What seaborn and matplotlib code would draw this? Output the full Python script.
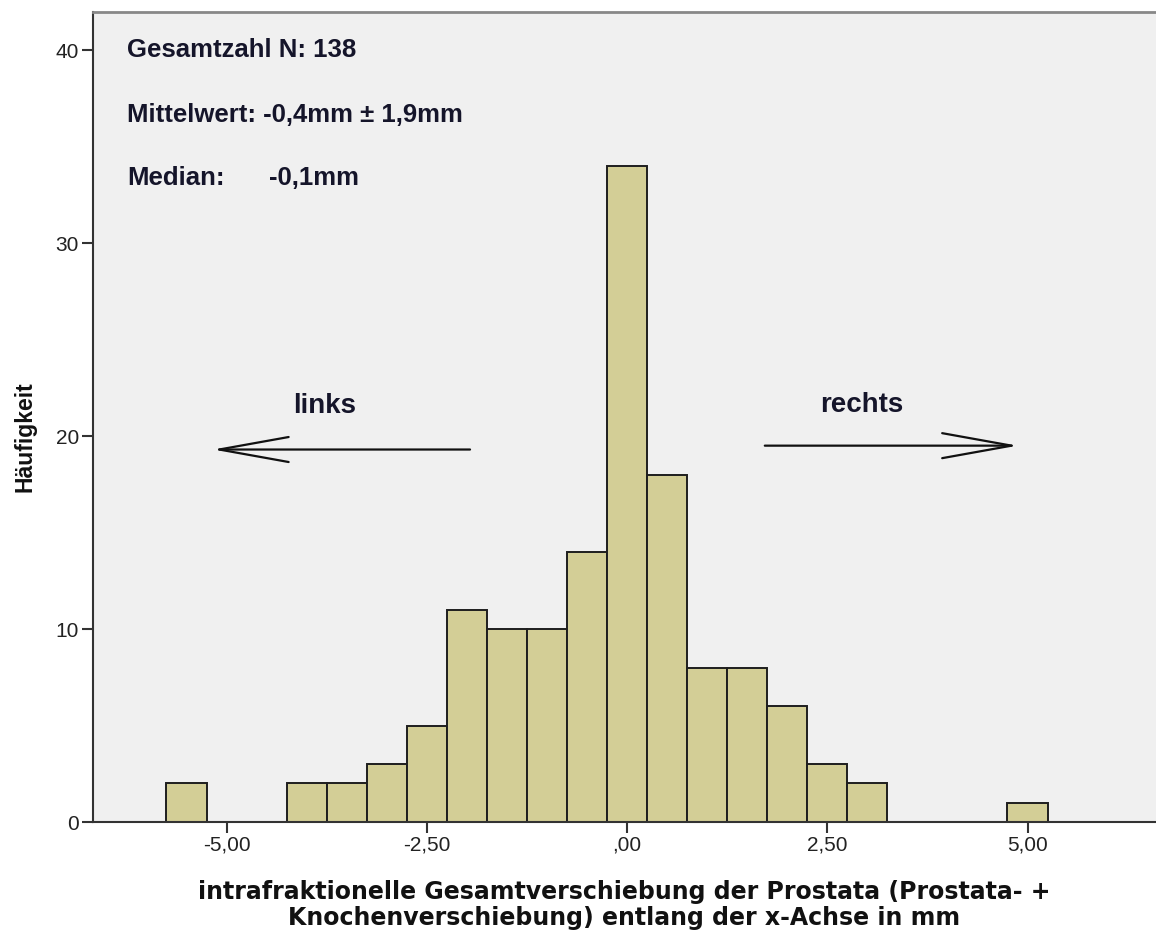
import numpy as np
import pandas as pd
import matplotlib
matplotlib.use("Agg")
import matplotlib.pyplot as plt
import seaborn as sns

# ---- data ----
bin_centers = [-5.5, -4.0, -3.5, -3.0, -2.5, -2.0, -1.5, -1.0, -0.5, 0.0,
               0.5, 1.0, 1.5, 2.0, 2.5, 3.0, 5.0]
counts = [2, 2, 2, 3, 5, 11, 10, 10, 14, 34, 18, 8, 8, 6, 3, 2, 1]
bin_width = 0.5
x_ticks = [-5.0, -2.5, 0.0, 2.5, 5.0]
x_tick_labels = ["-5,00", "-2,50", ",00", "2,50", "5,00"]
y_ticks = [0, 10, 20, 30, 40]
stats_lines = ["Gesamtzahl N: 138", "Mittelwert: -0,4mm \u00b1 1,9mm", "Median:"]
median_value = "-0,1mm"
x_label = ("intrafraktionelle Gesamtverschiebung der Prostata (Prostata- +\n"
           "Knochenverschiebung) entlang der x-Achse in mm")
y_label = "H\u00e4ufigkeit"

df = pd.DataFrame({"center": bin_centers, "count": counts})
bin_lo = min(bin_centers) - bin_width / 2
bin_hi = max(bin_centers) + bin_width / 2

sns.set_style("ticks")
plt.rcParams["font.family"] = ["Liberation Sans", "DejaVu Sans"]

W, H = 1156, 935
fig = plt.figure(figsize=(W / 100, H / 100), dpi=100)
ax_left, ax_right, ax_bottom, ax_top = 93, 1156, 822, 12
ax = fig.add_axes([ax_left / W, (H - ax_bottom) / H,
                   (ax_right - ax_left) / W, (ax_bottom - ax_top) / H])
ax.set_facecolor("#F0F0F0")

sns.histplot(data=df, x="center", weights="count", binwidth=bin_width,
             binrange=(bin_lo, bin_hi), ax=ax,
             color="#D3CE96", edgecolor="#1E1E1E", linewidth=1.4, alpha=1.0)

ax.set_xlim(-6.667, 6.604)
ax.set_ylim(0, 41.97)
ax.set_xticks(x_ticks)
ax.set_xticklabels(x_tick_labels)
ax.set_yticks(y_ticks)
ax.tick_params(axis="both", direction="out", length=8, width=1.5,
               color="#333333", labelsize=15, labelcolor="#222222", pad=2)

for side in ["left", "bottom"]:
    ax.spines[side].set_color("#333333")
    ax.spines[side].set_linewidth(1.5)
ax.spines["top"].set_color("#888888")
ax.spines["top"].set_linewidth(2.0)
ax.spines["right"].set_visible(False)

ax.set_xlabel("")
ax.set_ylabel("")
fig.text((ax_left + ax_right) / 2 / W, 1 - 880 / H, x_label, ha="center",
         va="top", fontsize=17, fontweight="bold", linespacing=1.12,
         color="#111111", family=["DejaVu Sans"])
fig.text(25 / W, 1 - 437 / H, y_label, rotation=90, ha="center", va="center",
         fontsize=16.5, fontweight="bold", color="#111111")

# statistics text block
stat_x = -6.24
stat_y = [39.64, 36.27, 33.0]
for txt, yy in zip(stats_lines, stat_y):
    ax.text(stat_x, yy, txt, fontsize=18.5, fontweight="bold", color="#15152A",
            ha="left", va="baseline")
ax.text(-4.47, stat_y[2], median_value, fontsize=18.5, fontweight="bold",
        color="#15152A", ha="left", va="baseline")

# direction annotations
ax.text(-3.77, 21.2, "links", fontsize=20, fontweight="bold", color="#15152A",
        ha="center", va="baseline")
ax.text(2.93, 21.24, "rechts", fontsize=20, fontweight="bold", color="#15152A",
        ha="center", va="baseline")
arrow_kw = dict(arrowstyle="->,head_length=5.0,head_width=0.9",
                color="#111111", lw=1.6, mutation_scale=10,
                shrinkA=0, shrinkB=0)
ax.annotate("", xy=(-5.17, 19.3), xytext=(-1.96, 19.3), arrowprops=arrow_kw)
ax.annotate("", xy=(4.88, 19.5), xytext=(1.72, 19.5), arrowprops=arrow_kw)

fig.savefig("out.png", dpi=100)
